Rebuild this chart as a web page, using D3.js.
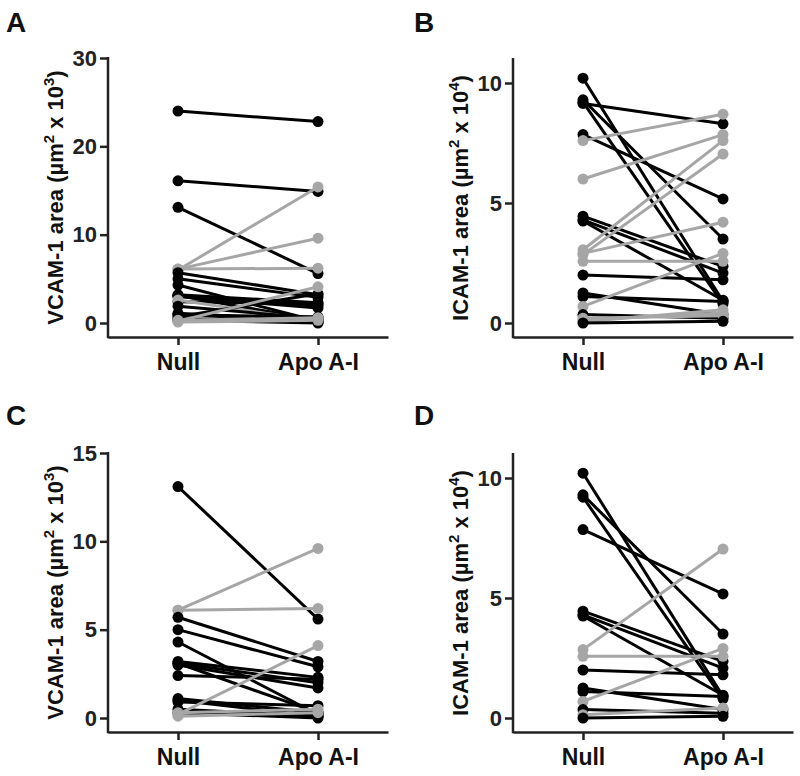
<!DOCTYPE html>
<html>
<head>
<meta charset="utf-8">
<script src="https://cdn.jsdelivr.net/npm/d3@7"></script>
<style>
  html, body { margin: 0; padding: 0; background: #fff; }
  svg { display: block; font-family: "Liberation Sans", Arial, Helvetica, sans-serif; font-weight: bold; }
</style>
</head>
<body>
<svg id="chart" width="800" height="776"></svg>
<script>
// ---- Data ----
const categories = ["Null", "Apo A-I"];

// Panel A: VCAM-1 (all)
const aNull = [24.0, 16.1, 13.1, 6.0, 6.1, 6.1, 5.7, 5.0, 4.3, 3.2, 3.1, 3.1, 3.0, 2.4, 2.6, 1.9, 1.1, 1.0, 0.9, 0.7, 0.5, 0.3, 0.2, 0.3, 0.1];
const aApo  = [22.8, 14.9, 5.6, 15.4, 9.6, 6.2, 3.2, 2.9, 0.2, 2.3, 2.0, 0.3, 1.7, 2.2, 0.2, 0.5, 0.3, 0.1, 0.7, 3.3, 0.1, 0.0, 4.1, 0.6, 0.3];
const aGray = [0, 0, 0, 1, 1, 1, 0, 0, 0, 0, 0, 0, 0, 0, 1, 0, 0, 0, 0, 0, 0, 0, 1, 1, 1];

// Panel B: ICAM-1 (all)
const bNull = [10.2, 9.3, 9.2, 9.15, 7.85, 7.6, 6.0, 4.45, 4.3, 4.25, 3.05, 2.9, 2.85, 2.57, 2.0, 1.25, 1.1, 0.69, 0.35, 0.2, 0.14, 0.05, 0.0];
const bApo  = [0.9, 3.5, 0.8, 8.3, 5.17, 8.7, 7.85, 2.36, 2.08, 0.95, 7.6, 4.2, 7.04, 2.57, 1.8, 0.35, 0.9, 2.9, 0.2, 0.3, 0.42, 0.55, 0.07];
const bGray = [0, 0, 0, 0, 0, 1, 1, 0, 0, 0, 1, 1, 1, 1, 0, 0, 0, 1, 0, 1, 1, 1, 0];

// Panel C: VCAM-1 (subset)
const cNull = [13.1, 6.1, 6.1, 5.7, 5.0, 4.3, 3.2, 3.1, 3.1, 3.0, 2.4, 1.1, 1.0, 0.9, 0.5, 0.3, 0.2, 0.3, 0.1];
const cApo  = [5.6, 9.6, 6.2, 3.2, 2.9, 0.2, 2.3, 2.0, 0.3, 1.7, 2.2, 0.3, 0.1, 0.7, 0.1, 0.0, 4.1, 0.5, 0.3];
const cGray = [0, 1, 1, 0, 0, 0, 0, 0, 0, 0, 0, 0, 0, 0, 0, 0, 1, 1, 1];

// Panel D: ICAM-1 (subset)
const dNull = [10.2, 9.3, 9.2, 7.85, 4.45, 4.3, 4.25, 2.85, 2.57, 2.0, 1.25, 1.1, 0.69, 0.35, 0.14, 0.0];
const dApo  = [0.9, 3.5, 0.8, 5.17, 2.36, 2.08, 0.95, 7.04, 2.57, 1.8, 0.35, 0.9, 2.9, 0.2, 0.42, 0.07];
const dGray = [0, 0, 0, 0, 0, 0, 0, 1, 1, 0, 0, 0, 1, 0, 1, 0];

const vcamTicks = [0, 10, 20, 30];
const vcamTicksC = [0, 5, 10, 15];
const icamTicks = [0, 5, 10];

// ---- Layout ----
const BLACK = "#000000", GRAY = "#a6a6a6";
const svg = d3.select("#chart");

const panels = [
  { letter: "A", lx: 6, ly: 32, x0: 108, x1: 388, yTop: 58, yZero: 323, xAxisY: 337, max: 30, ticks: vcamTicks,
    title: ["VCAM-1 area (µm", "2", " x 10", "3", ")"], tx: 63, nul: aNull, apo: aApo, gray: aGray },
  { letter: "B", lx: 414, ly: 32, x0: 513, x1: 793, yTop: 59, yZero: 323, xAxisY: 337, max: 11, ticks: icamTicks,
    title: ["ICAM-1 area (µm", "2", " x 10", "4", ")"], tx: 468, nul: bNull, apo: bApo, gray: bGray },
  { letter: "C", lx: 6, ly: 425, x0: 108, x1: 388, yTop: 453, yZero: 718, xAxisY: 732, max: 15, ticks: vcamTicksC,
    title: ["VCAM-1 area (µm", "2", " x 10", "3", ")"], tx: 63, nul: cNull, apo: cApo, gray: cGray },
  { letter: "D", lx: 414, ly: 425, x0: 513, x1: 793, yTop: 454, yZero: 718, xAxisY: 732, max: 11, ticks: icamTicks,
    title: ["ICAM-1 area (µm", "2", " x 10", "4", ")"], tx: 468, nul: dNull, apo: dApo, gray: dGray }
];

panels.forEach(p => {
  const g = svg.append("g");
  const x = d3.scalePoint().domain(categories).range([p.x0, p.x1]).padding(0.5);
  const y = d3.scaleLinear().domain([0, p.max]).range([p.yZero, p.yTop]);

  // panel letter
  g.append("text").attr("x", p.lx).attr("y", p.ly).attr("font-size", 28).attr("fill", "#111").text(p.letter);

  // y axis
  const ya = g.append("g").attr("transform", `translate(${p.x0},0)`)
    .call(d3.axisLeft(y).tickValues(p.ticks).tickSize(8).tickPadding(3).tickSizeOuter(0));
  ya.select(".domain").remove();
  ya.selectAll(".tick line").attr("stroke", "#222").attr("stroke-width", 2.5);
  ya.selectAll(".tick text").attr("font-size", 22).attr("font-family", "Liberation Sans, Arial, sans-serif")
    .attr("font-weight", "bold").attr("fill", "#222");
  g.append("line").attr("x1", p.x0).attr("x2", p.x0).attr("y1", p.yTop - 1).attr("y2", p.xAxisY + 1.25)
    .attr("stroke", "#222").attr("stroke-width", 2.5);

  // x axis
  const xa = g.append("g").attr("transform", `translate(0,${p.xAxisY})`)
    .call(d3.axisBottom(x).tickSize(8).tickPadding(9).tickSizeOuter(0));
  xa.select(".domain").attr("stroke", "#222").attr("stroke-width", 2.5);
  xa.selectAll(".tick line").attr("stroke", "#222").attr("stroke-width", 2.5);
  xa.selectAll(".tick text").attr("font-size", 23).attr("font-family", "Liberation Sans, Arial, sans-serif")
    .attr("font-weight", "bold").attr("fill", "#111");

  // y title
  const cy = (p.yTop + p.xAxisY) / 2;
  const t = g.append("text").attr("transform", `translate(${p.tx},${cy}) rotate(-90)`)
    .attr("text-anchor", "middle").attr("font-size", 22).attr("fill", "#111");
  t.append("tspan").text(p.title[0]);
  t.append("tspan").attr("dy", -9).attr("font-size", 15).text(p.title[1]);
  t.append("tspan").attr("dy", 9).text(p.title[2]);
  t.append("tspan").attr("dy", -9).attr("font-size", 15).text(p.title[3]);
  t.append("tspan").attr("dy", 9).text(p.title[4]);

  // data pairs
  const rows = p.nul.map((v, i) => ({ a: v, b: p.apo[i], c: p.gray[i] ? GRAY : BLACK }));
  const pair = g.append("g").selectAll("g").data(rows).join("g");
  pair.append("line")
    .attr("x1", x(categories[0])).attr("x2", x(categories[1]))
    .attr("y1", d => y(d.a)).attr("y2", d => y(d.b))
    .attr("stroke", d => d.c).attr("stroke-width", 3);
  pair.append("circle").attr("cx", x(categories[0])).attr("cy", d => y(d.a)).attr("r", 5.5).attr("fill", d => d.c);
  pair.append("circle").attr("cx", x(categories[1])).attr("cy", d => y(d.b)).attr("r", 5.5).attr("fill", d => d.c);
});
</script>
</body>
</html>
